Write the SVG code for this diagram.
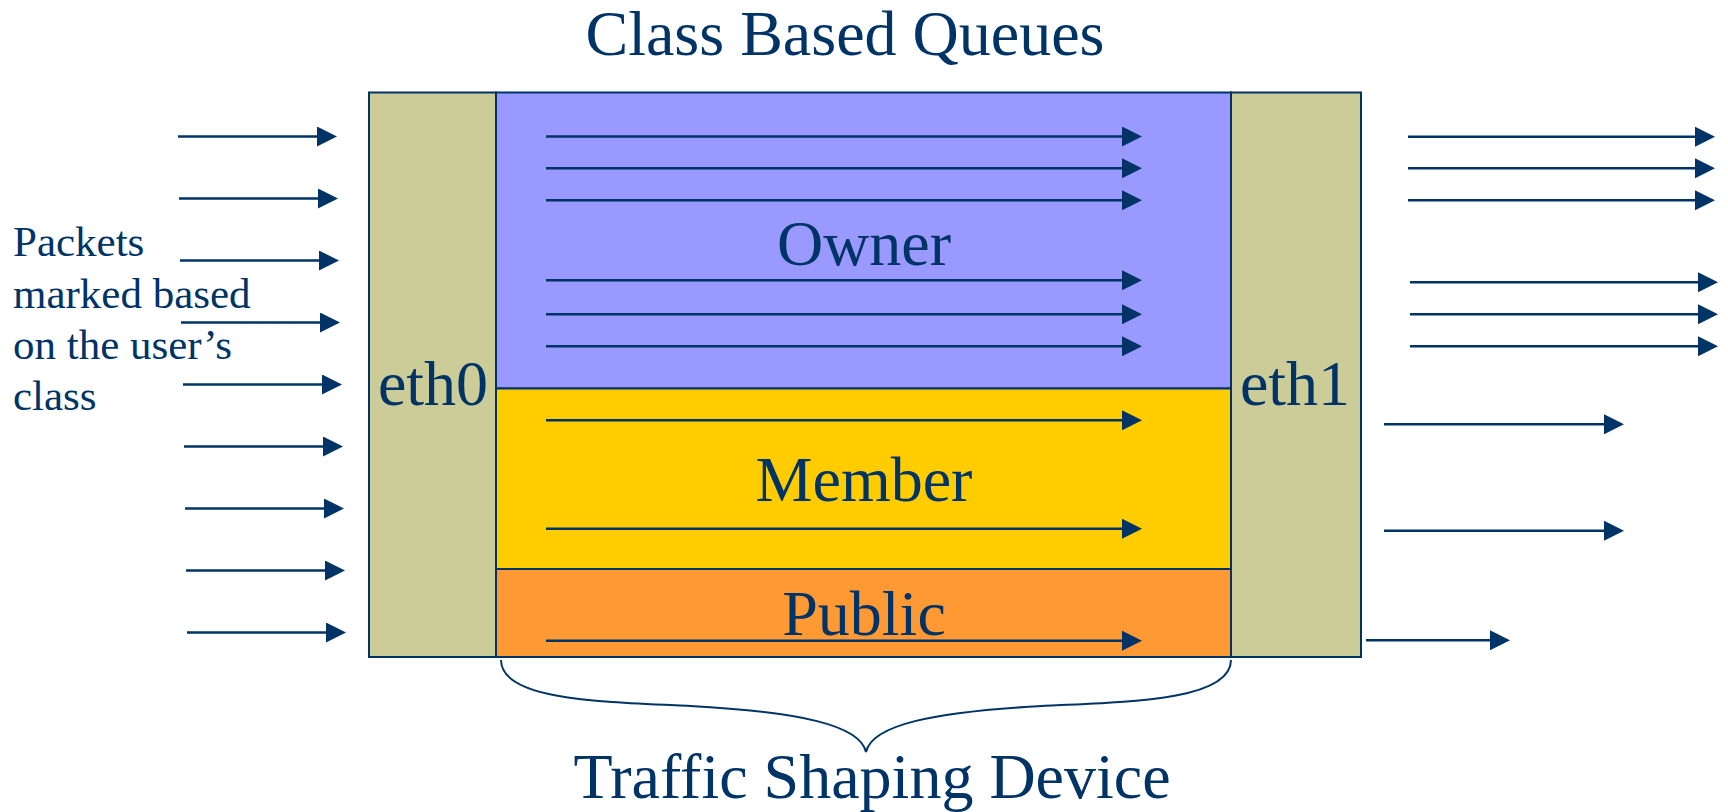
<svg xmlns="http://www.w3.org/2000/svg" width="1728" height="812" viewBox="0 0 1728 812">
  <style>
    .box { stroke: #003366; stroke-width: 2; }
    .eth { fill: #CCCC99; }
    .owner { fill: #9999FF; }
    .member { fill: #FFCC00; }
    .public { fill: #FF9933; }
    .lbl { font-family: "Liberation Serif", "Times New Roman", serif; fill: #003366; }
    .big { font-size: 64px; }
    .side { font-size: 43px; }
    .arr { stroke: #003366; stroke-width: 2.5; fill: none; marker-end: url(#head); }
    .brace { stroke: #003366; stroke-width: 2; fill: none; }
  </style>
  <defs>
    <marker id="head" markerUnits="userSpaceOnUse" markerWidth="20" markerHeight="20" refX="0" refY="10" orient="auto">
      <path d="M0,0 L20,10 L0,20 z" fill="#003366"/>
    </marker>
  </defs>
  <rect width="1728" height="812" fill="#FFFFFF"/>

  <!-- titles -->
  <g id="title">
    <text class="lbl big" x="845" y="55" text-anchor="middle">Class Based Queues</text>
  </g>
  <g id="legend">
    <text class="lbl side" x="13" y="256">Packets</text>
    <text class="lbl side" x="13" y="308">marked based</text>
    <text class="lbl side" x="13" y="359">on the user’s</text>
    <text class="lbl side" x="13" y="410">class</text>
  </g>

  <!-- device parts -->
  <g id="eth0">
    <rect class="box eth" x="369" y="92.5" width="127" height="564.5"/>
    <text class="lbl big" x="433" y="405" text-anchor="middle">eth0</text>
  </g>
  <g id="owner">
    <rect class="box owner" x="496" y="92.5" width="735" height="296"/>
    <text class="lbl big" x="864" y="265" text-anchor="middle">Owner</text>
  </g>
  <g id="member">
    <rect class="box member" x="496" y="388.5" width="735" height="180.5"/>
    <text class="lbl big" x="864" y="501" text-anchor="middle">Member</text>
  </g>
  <g id="public">
    <rect class="box public" x="496" y="569" width="735" height="88"/>
    <text class="lbl big" x="864" y="635" text-anchor="middle">Public</text>
  </g>
  <g id="eth1">
    <rect class="box eth" x="1231" y="92.5" width="130" height="564.5"/>
    <text class="lbl big" x="1295" y="405" text-anchor="middle">eth1</text>
  </g>
  <g id="device">
    <path class="brace" d="M501,660 C501,700 600,702 690,706 C800,712 860,725 866,752 C872,725 932,712 1042,706 C1132,702 1231,700 1231,660"/>
    <text class="lbl big" x="872" y="798" text-anchor="middle">Traffic Shaping Device</text>
  </g>

  <!-- packet flows -->
  <g id="connectors">
    <line class="arr" x1="178" y1="136.5" x2="317" y2="136.5"/>
    <line class="arr" x1="179" y1="198.5" x2="318" y2="198.5"/>
    <line class="arr" x1="180" y1="260.5" x2="319" y2="260.5"/>
    <line class="arr" x1="181" y1="322.5" x2="320" y2="322.5"/>
    <line class="arr" x1="183" y1="384.5" x2="322" y2="384.5"/>
    <line class="arr" x1="184" y1="446.5" x2="323" y2="446.5"/>
    <line class="arr" x1="185" y1="508.5" x2="324" y2="508.5"/>
    <line class="arr" x1="186" y1="570.5" x2="325" y2="570.5"/>
    <line class="arr" x1="187" y1="632.5" x2="326" y2="632.5"/>

    <line class="arr" x1="546" y1="136.5" x2="1122" y2="136.5"/>
    <line class="arr" x1="546" y1="168.3" x2="1122" y2="168.3"/>
    <line class="arr" x1="546" y1="200.3" x2="1122" y2="200.3"/>
    <line class="arr" x1="546" y1="280.3" x2="1122" y2="280.3"/>
    <line class="arr" x1="546" y1="314.3" x2="1122" y2="314.3"/>
    <line class="arr" x1="546" y1="346.3" x2="1122" y2="346.3"/>
    <line class="arr" x1="546" y1="420.3" x2="1122" y2="420.3"/>
    <line class="arr" x1="546" y1="528.7" x2="1122" y2="528.7"/>
    <line class="arr" x1="546" y1="640.7" x2="1122" y2="640.7"/>

    <line class="arr" x1="1408" y1="136.7" x2="1695" y2="136.7"/>
    <line class="arr" x1="1408" y1="168.3" x2="1695" y2="168.3"/>
    <line class="arr" x1="1408" y1="200.3" x2="1695" y2="200.3"/>
    <line class="arr" x1="1410" y1="282.3" x2="1698" y2="282.3"/>
    <line class="arr" x1="1410" y1="314.3" x2="1698" y2="314.3"/>
    <line class="arr" x1="1410" y1="346.3" x2="1698" y2="346.3"/>
    <line class="arr" x1="1384" y1="424.3" x2="1604" y2="424.3"/>
    <line class="arr" x1="1384" y1="530.7" x2="1604" y2="530.7"/>
    <line class="arr" x1="1366" y1="640.3" x2="1490" y2="640.3"/>
  </g>
</svg>
